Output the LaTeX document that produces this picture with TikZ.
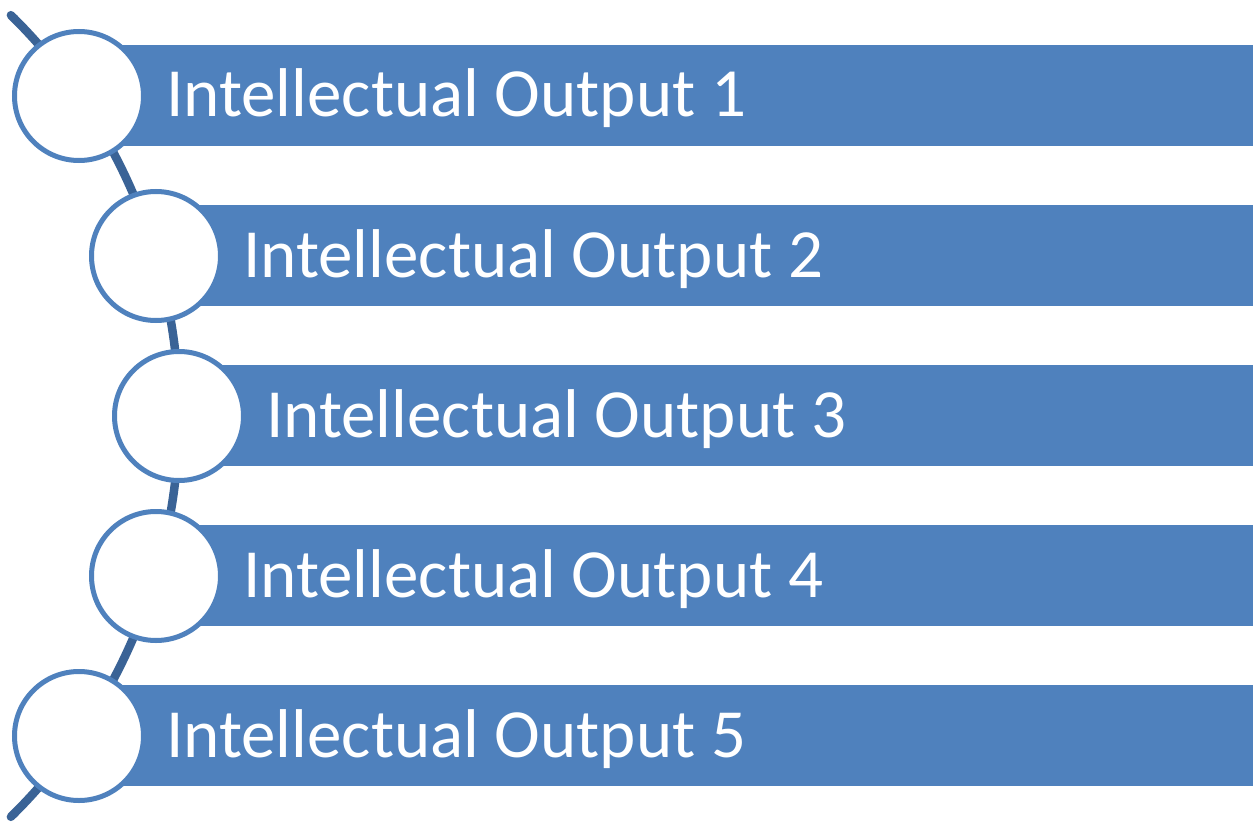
\documentclass[tikz,border=0pt]{standalone}
\usepackage{fontspec}
\setmainfont{Carlito}
\definecolor{barblue}{RGB}{79,129,189}
\definecolor{arcblue}{RGB}{58,99,150}
\tikzset{
  bar/.style={fill=barblue, draw=none, anchor=north west, minimum height=101pt, inner sep=0pt, outer sep=0pt},
  ring/.style={circle, draw=barblue, line width=5pt, fill=white, minimum size=129pt, inner sep=0pt},
  label/.style={anchor=base west, inner sep=0pt, text=white, font=\fontsize{69}{83}\selectfont},
}
\begin{document}
\begin{tikzpicture}[x=1pt,y=1pt]
\useasboundingbox (0,0) rectangle (1253,-824);
% curved spine
\draw[arcblue, line width=8.5pt, line cap=round] (-383,-416) ++(45.5:562) arc[start angle=45.5, end angle=-45.5, radius=562];
% bars
\foreach \i/\cx in {1/79,2/156,3/179,4/156,5/79}{
  \pgfmathsetmacro{\top}{-45-160*(\i-1)}
  \pgfmathsetmacro{\w}{1253-\cx}
  \node[bar, minimum width=\w pt] (b\i) at (\cx,\top) {};
}
\foreach \i/\cx in {1/79,2/156,3/179,4/156,5/79}{
  \node[ring] (c\i) at (\cx, -96-160*\i+160) {};
  \node[label] (t\i) at (\cx+87, -117-160*\i+160) {Intellectual Output \i};
}
\end{tikzpicture}
\end{document}
